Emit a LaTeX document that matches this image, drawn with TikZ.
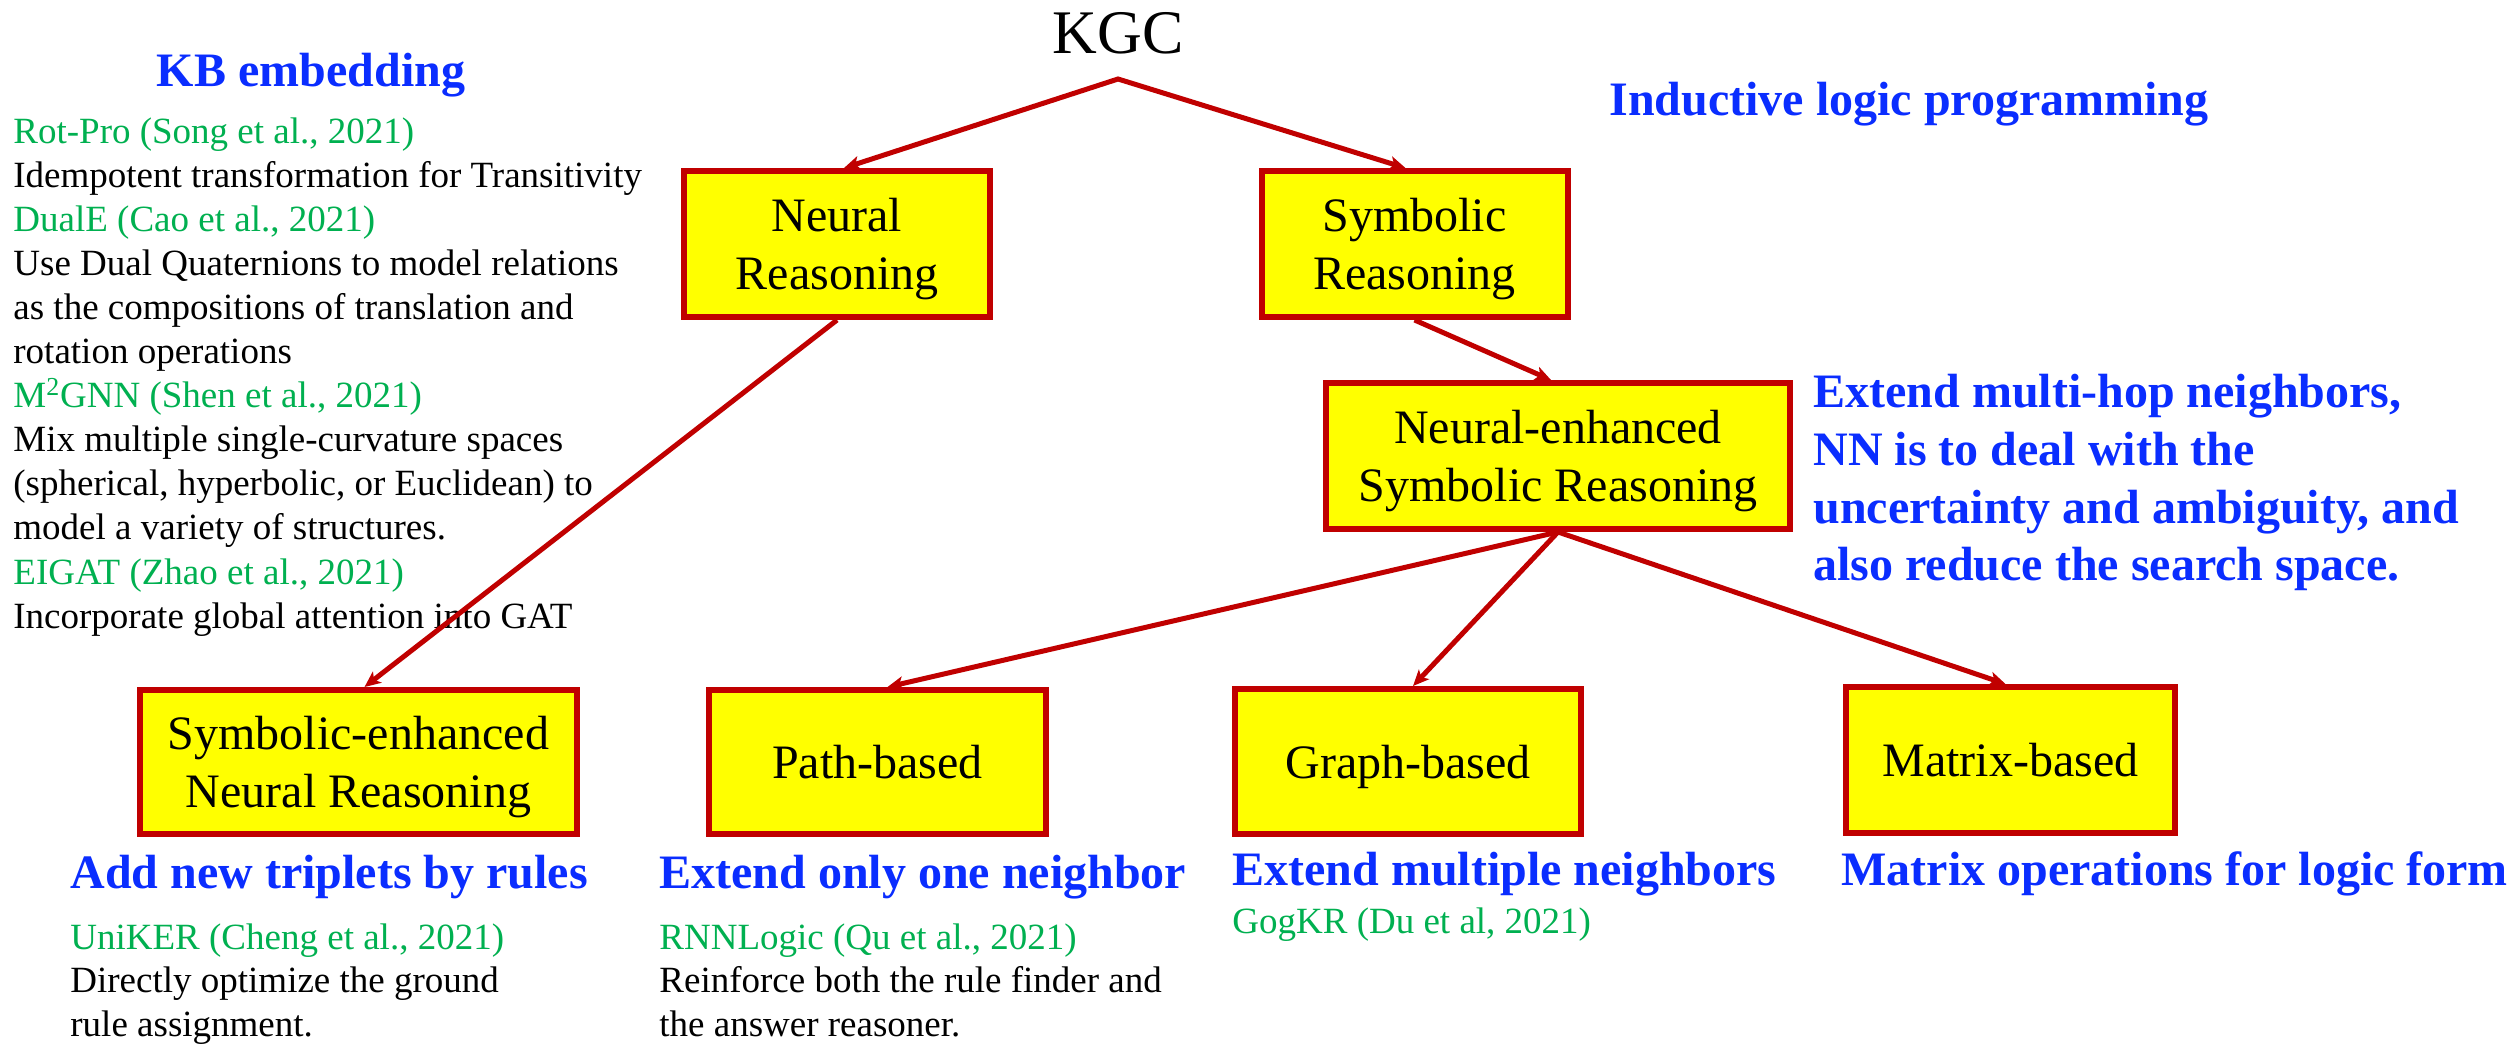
\documentclass[tikz,border=0pt]{standalone}
\usepackage{fontspec}
\setmainfont{Liberation Serif}
\usetikzlibrary{arrows.meta,calc}

\definecolor{kred}{RGB}{192,0,0}
\definecolor{kyellow}{RGB}{255,255,0}
\definecolor{kblue}{RGB}{10,45,255}
\definecolor{kgreen}{RGB}{0,176,80}

\newcommand\fsSmall{\fontsize{18.5}{22}\selectfont}
\newcommand\fsBox{\fontsize{24}{29}\selectfont}
\newcommand\fsHead{\fontsize{24}{29}\selectfont\bfseries}
\newcommand\fsTitle{\fontsize{31}{37}\selectfont}

\tikzset{
  box/.style={draw=kred, line width=3pt, fill=kyellow, font=\fsBox,
    align=center, text depth=0pt, inner sep=0pt},
  note/.style={anchor=base west, inner sep=0pt, font=\fsSmall},
  cite/.style={note, text=kgreen},
  head/.style={anchor=base west, inner sep=0pt, font=\fsHead, text=kblue},
  link/.style={draw=kred, line width=2.5pt, line join=miter,
    -{Stealth[length=8pt,width=7pt,inset=2pt]}},
}

\begin{document}
\begin{tikzpicture}[x=0.5pt,y=-0.5pt]
  \fill[white] (0,0) rectangle (2509,1045);
  \useasboundingbox (0,0) rectangle (2509,1045);

  % root
  \node[anchor=base, inner sep=0pt, font=\fsTitle] (kgc) at (1118,53) {KGC};
  \coordinate (kgcfoot) at (1118,79);

  % reasoning boxes
  \node[box, minimum width=153pt, minimum height=73pt] (neural) at (837,244) {Neural\\Reasoning};
  \node[box, minimum width=153pt, minimum height=73pt] (sym) at (1414.5,244) {Symbolic\\Reasoning};
  \node[box, minimum width=232pt, minimum height=73pt] (nesr) at (1558,456) {Neural-enhanced\\Symbolic Reasoning};
  \node[box, minimum width=218.5pt, minimum height=72pt] (senr) at (358.5,762) {Symbolic-enhanced\\Neural Reasoning};
  \node[box, minimum width=168.5pt, minimum height=72pt] (path) at (877.5,762) {Path-based};
  \node[box, minimum width=173pt, minimum height=72.5pt] (graph) at (1408,761.5) {Graph-based};
  \node[box, minimum width=164.5pt, minimum height=73pt] (matrix) at (2010.5,760) {Matrix-based};

  % knowledge-base embedding column
  \node[anchor=base, inner sep=0pt, font=\fsHead, text=kblue] (kbe) at (311,86) {KB embedding};
  \node[cite] (l1) at (13,143) {Rot-Pro (Song et al., 2021)};
  \node[note] (l2) at (13,187.1) {Idempotent transformation for Transitivity};
  \node[cite] (l3) at (13,231.2) {DualE (Cao et al., 2021)};
  \node[note] (l4) at (13,275.3) {Use Dual Quaternions to model relations};
  \node[note] (l5) at (13,319.4) {as the compositions of translation and};
  \node[note] (l6) at (13,363.5) {rotation operations};
  \node[cite] (l7) at (13,407.6) {M\textsuperscript{2}GNN (Shen et al., 2021)};
  \node[note] (l8) at (13,451.7) {Mix multiple single-curvature spaces};
  \node[note] (l9) at (13,495.8) {(spherical, hyperbolic, or Euclidean) to};
  \node[note] (l10) at (13,539.9) {model a variety of structures.};
  \node[cite] (l11) at (13,584) {EIGAT (Zhao et al., 2021)};
  \node[note] (l12) at (13,628.1) {Incorporate global attention into GAT};

  % inductive logic programming side
  \node[head] (ilp) at (1609,115) {Inductive logic programming};
  \node[head] (ne1) at (1813,407) {Extend multi-hop neighbors,};
  \node[head] (ne2) at (1813,465) {NN is to deal with the};
  \node[head] (ne3) at (1813,523) {uncertainty and ambiguity, and};
  \node[head] (ne4) at (1813,580) {also reduce the search space.};

  % captions below the leaf boxes
  \node[head] (c1) at (70,888) {Add new triplets by rules};
  \node[cite] (c1a) at (70,949) {UniKER (Cheng et al., 2021)};
  \node[note] (c1b) at (70,992) {Directly optimize the ground};
  \node[note] (c1c) at (70,1036) {rule assignment.};

  \node[head] (c2) at (659,888) {Extend only one neighbor};
  \node[cite] (c2a) at (659,949) {RNNLogic (Qu et al., 2021)};
  \node[note] (c2b) at (659,992) {Reinforce both the rule finder and};
  \node[note] (c2c) at (659,1036) {the answer reasoner.};

  \node[head] (c3) at (1232,885) {Extend multiple neighbors};
  \node[cite] (c3a) at (1232,933) {GogKR (Du et al, 2021)};

  \node[head] (c4) at (1841,885) {Matrix operations for logic form};

  % connectors
  \draw[link, {Stealth[length=8pt,width=7pt,inset=2pt]}-{Stealth[length=8pt,width=7pt,inset=2pt]}]
    ($(neural.north)+(7,0)$) -- (kgcfoot) -- ($(sym.north)+(-9,0)$);
  \draw[link] (sym.south) -- ($(nesr.north)+(-7,0)$);
  \draw[link] (neural.south) -- ($(senr.north)+(6,0)$);
  \draw[link] (nesr.south) -- ($(path.north)+(10,0)$);
  \draw[link] (nesr.south) -- ($(graph.north)+(5,0)$);
  \draw[link] (nesr.south) -- ($(matrix.north)+(-5,0)$);
\end{tikzpicture}
\end{document}
